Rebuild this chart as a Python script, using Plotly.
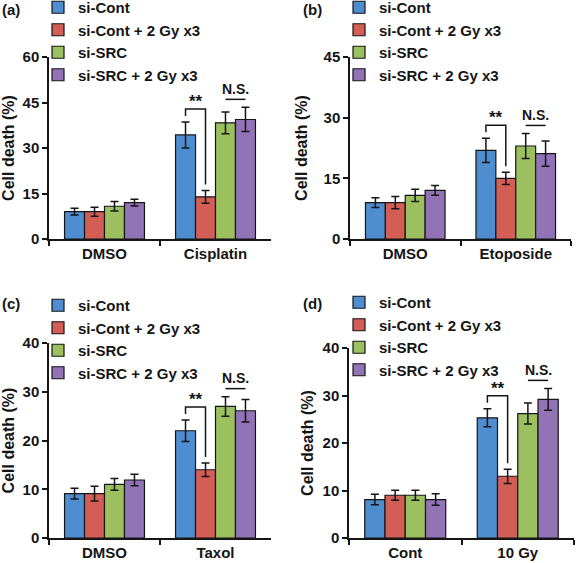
import plotly.graph_objects as go

# ---------------- data ----------------
series_names = ["si-Cont", "si-Cont + 2 Gy x3", "si-SRC", "si-SRC + 2 Gy x3"]
series_colors = ["#4E8ED0", "#D35E56", "#9CC060", "#9273B5"]
panel_labels = ["(a)", "(b)", "(c)", "(d)"]

cats_a = ["DMSO", "Cisplatin"]
means_a = [[9.0, 34.3], [9.0, 13.9], [10.8, 38.3], [12.0, 39.4]]
errs_a = [[1.1, 4.3], [1.5, 2.1], [1.6, 3.6], [1.1, 4.0]]
ticks_a = [0, 15, 30, 45, 60]

cats_b = ["DMSO", "Etoposide"]
means_b = [[9.0, 21.9], [9.0, 15.0], [10.8, 23.0], [12.0, 21.1]]
errs_b = [[1.2, 3.0], [1.5, 1.5], [1.5, 3.1], [1.2, 3.1]]
ticks_b = [0, 15, 30, 45]

cats_c = ["DMSO", "Taxol"]
means_c = [[9.1, 22.0], [9.1, 14.0], [11.0, 27.0], [11.9, 26.1]]
errs_c = [[1.1, 2.2], [1.5, 1.4], [1.2, 2.0], [1.2, 2.3]]
ticks_c = [0, 10, 20, 30, 40]

cats_d = ["Cont", "10 Gy"]
means_d = [[8.1, 25.3], [9.0, 13.0], [9.0, 26.2], [8.1, 29.2]]
errs_d = [[1.1, 1.9], [1.05, 1.5], [1.05, 2.2], [1.2, 2.3]]
ticks_d = [0, 10, 20, 30, 40]

y_title = "Cell death (%)"
sig_star = "**"
sig_ns = "N.S."

# ---------------- layout geometry (pixels) ----------------
W, H = 576, 563
BARGAP = 0.28
panels = [
    dict(cats=cats_a, means=means_a, errs=errs_a, ticks=ticks_a,
         px=(49, 271), py=(57, 239), standoff=6,
         leg=(38, -9), lab=(0, 10)),
    dict(cats=cats_b, means=means_b, errs=errs_b, ticks=ticks_b,
         px=(350, 571), py=(57, 239), standoff=12,
         leg=(339, -9), lab=(301, 10)),
    dict(cats=cats_c, means=means_c, errs=errs_c, ticks=ticks_c,
         px=(49, 271), py=(343, 538), standoff=9,
         leg=(38, 289), lab=(0, 303)),
    dict(cats=cats_d, means=means_d, errs=errs_d, ticks=ticks_d,
         px=(349, 574), py=(348, 538), standoff=5,
         leg=(339, 286), lab=(301, 303)),
]

fig = go.Figure()
shapes = []
annotations = []
layout_axes = {}
FONT = "Liberation Sans, Arial, sans-serif"
INK = "#151515"

for p_i, p in enumerate(panels):
    sfx = "" if p_i == 0 else str(p_i + 1)
    xa, ya = "x" + sfx, "y" + sfx
    legend_name = "legend" + sfx
    for s_i, name in enumerate(series_names):
        fig.add_trace(go.Bar(
            x=p["cats"], y=p["means"][s_i], name=name,
            marker=dict(color=series_colors[s_i], line=dict(color=INK, width=1.2)),
            error_y=dict(type="data", array=p["errs"][s_i], color=INK,
                         thickness=1.5, width=4),
            xaxis=xa, yaxis=ya, legend=legend_name, showlegend=True,
        ))
    ymax = p["ticks"][-1]
    layout_axes["xaxis" + sfx] = dict(
        domain=[p["px"][0] / W, p["px"][1] / W], anchor=ya,
        type="category", showline=True, linecolor=INK, linewidth=1.5,
        ticks="outside", tickson="boundaries", ticklen=5, tickwidth=1.5,
        tickcolor=INK, showgrid=False, zeroline=False, automargin=False,
        tickfont=dict(size=15, color=INK),
    )
    layout_axes["yaxis" + sfx] = dict(
        domain=[1 - p["py"][1] / H, 1 - p["py"][0] / H], anchor=xa,
        range=[0, ymax], tickvals=p["ticks"], showline=True, linecolor=INK,
        linewidth=1.5, ticks="outside", ticklen=5, tickwidth=1.5, tickcolor=INK,
        showgrid=False, zeroline=False, automargin=False,
        tickfont=dict(size=15, color=INK),
        title=dict(text=y_title, font=dict(size=16, color=INK), standoff=p["standoff"]),
    )
    layout_axes[legend_name] = dict(
        x=p["leg"][0] / W, y=1 - p["leg"][1] / H, xanchor="left", yanchor="top",
        bgcolor="rgba(0,0,0,0)", font=dict(size=15, color=INK),
        traceorder="normal", tracegroupgap=0,
    )
    # panel label
    annotations.append(dict(text=panel_labels[p_i], x=p["lab"][0] / W, y=1 - p["lab"][1] / H,
                            xref="paper", yref="paper", xanchor="left", yanchor="middle",
                            showarrow=False, font=dict(size=15, color=INK)))
    # significance marks on second category
    upp = ymax / (p["py"][1] - p["py"][0])  # data units per pixel
    w = (1 - BARGAP) / 4
    centers = [1 - (1 - BARGAP) / 2 + w * (k + 0.5) for k in range(4)]
    tops = [p["means"][k][1] + p["errs"][k][1] for k in range(4)]
    y_h = tops[0] + 13 * upp
    line = dict(color=INK, width=1.5)
    shapes.append(dict(type="path", xref=xa, yref=ya, line=line,
                       path=f"M {centers[0]},{tops[0] + 6 * upp} L {centers[0]},{y_h} "
                            f"L {centers[1]},{y_h} L {centers[1]},{tops[1] + 6 * upp}"))
    annotations.append(dict(text=sig_star, x=(centers[0] + centers[1]) / 2, y=y_h - 4 * upp,
                            xref=xa, yref=ya, yanchor="bottom", showarrow=False,
                            font=dict(size=17, color=INK)))
    y_ns = max(tops[2], tops[3]) + 8 * upp
    shapes.append(dict(type="line", xref=xa, yref=ya, line=line,
                       x0=centers[2], x1=centers[3], y0=y_ns, y1=y_ns))
    annotations.append(dict(text=sig_ns, x=(centers[2] + centers[3]) / 2, y=y_ns + 0.5 * upp,
                            xref=xa, yref=ya, yanchor="bottom", showarrow=False,
                            font=dict(size=14, color=INK)))

fig.update_layout(
    width=W, height=H, margin=dict(l=0, r=0, t=0, b=0, pad=0, autoexpand=False),
    paper_bgcolor="white", plot_bgcolor="white",
    barmode="group", bargap=BARGAP, bargroupgap=0,
    font=dict(family=FONT, size=15, color=INK, weight="bold"),
    shapes=shapes, annotations=annotations,
    **layout_axes,
)
fig.write_html("out.html", config={"displayModeBar": False},
               post_script="document.body.style.margin='0';")
